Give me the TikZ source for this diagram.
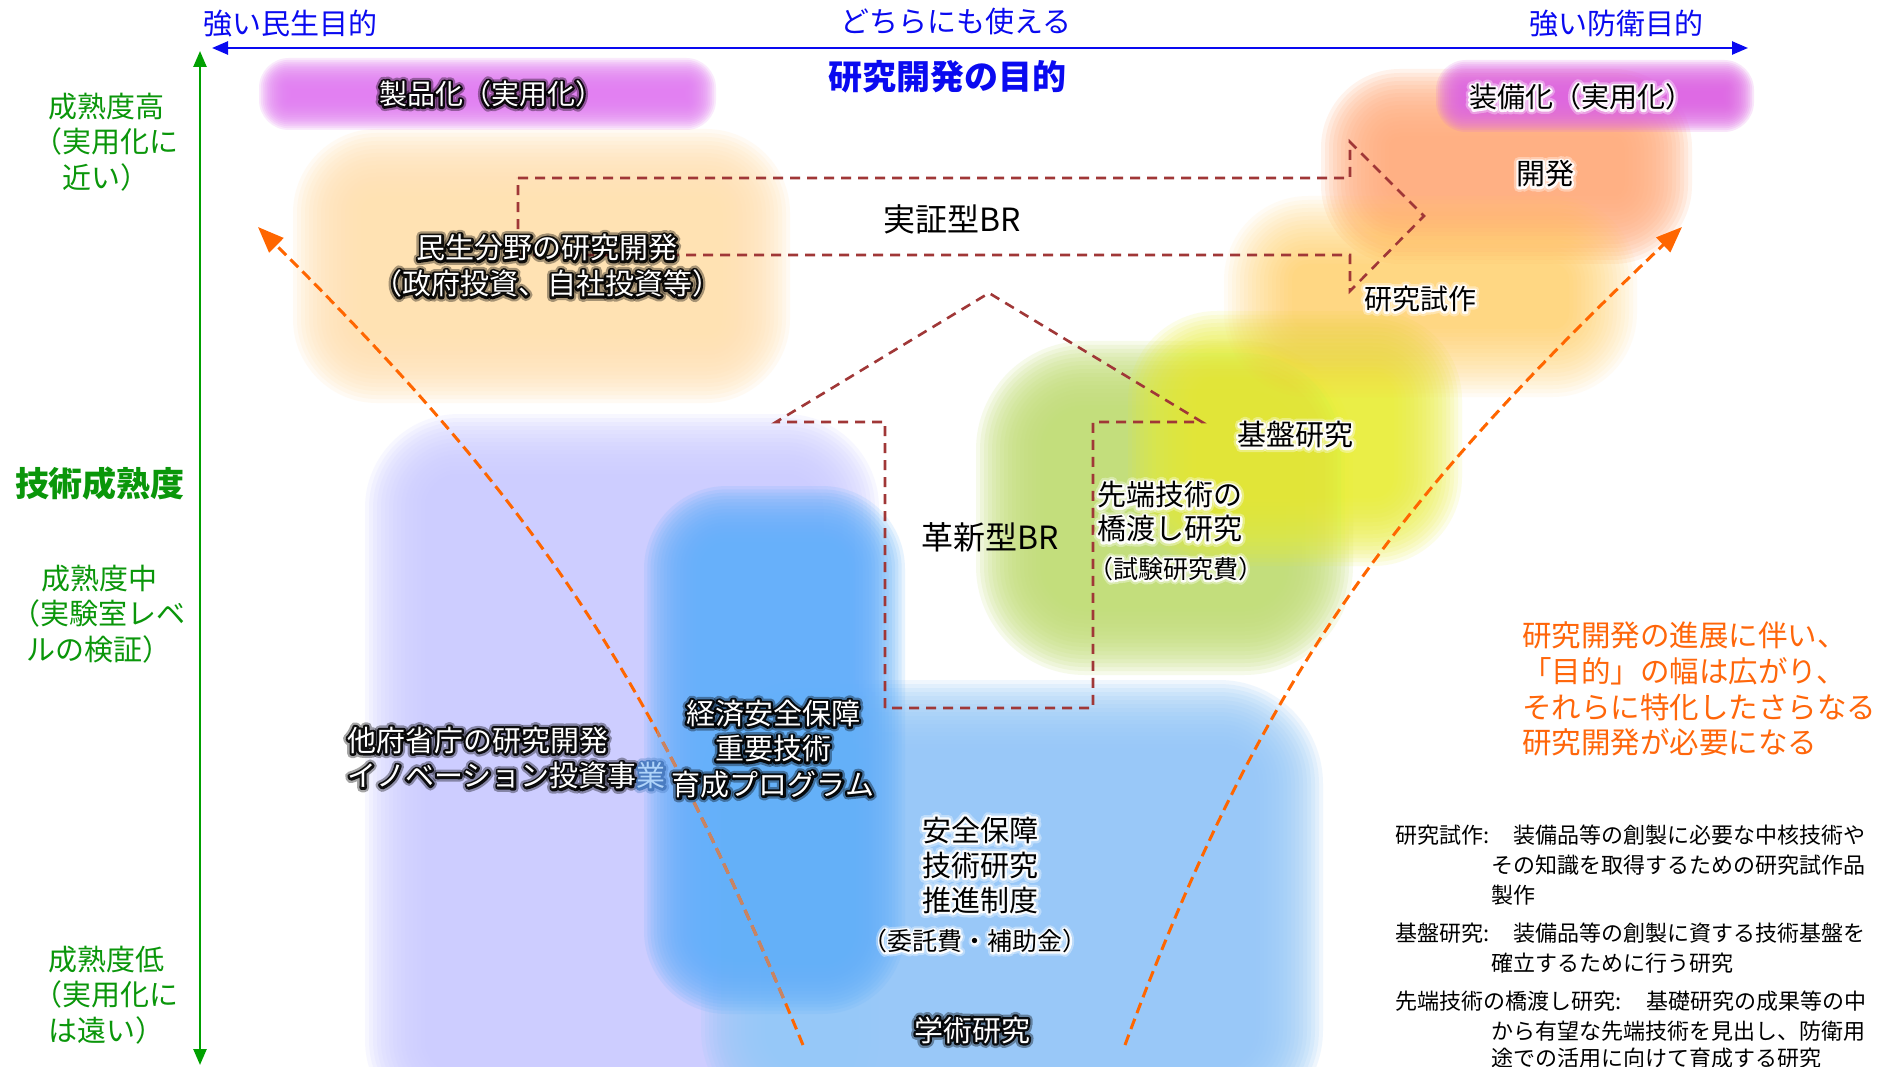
\documentclass[tikz,border=0pt]{standalone}
\usepackage{fontspec}
\setmainfont{Noto Sans CJK JP}
\newfontfamily\halofont[FakeBold=16]{Noto Sans CJK JP}
\newfontfamily\halofontb[FakeBold=32]{Noto Sans CJK JP}
\usetikzlibrary{arrows.meta,calc}
\definecolor{axblue}{RGB}{10,10,240}
\definecolor{axgreen}{RGB}{0,160,0}
\definecolor{lblgreen}{RGB}{10,150,10}
\definecolor{dbrown}{RGB}{160,55,55}
\definecolor{curveor}{RGB}{255,102,0}
\definecolor{curvebr}{RGB}{200,132,100}
\definecolor{txtor}{RGB}{255,102,10}
\definecolor{cpeach}{RGB}{255,226,178}
\definecolor{clav}{RGB}{205,205,255}
\definecolor{cltblue}{RGB}{150,200,248}
\definecolor{cblue}{RGB}{100,176,250}
\definecolor{cgreen}{RGB}{195,222,120}
\definecolor{cyellow}{RGB}{234,238,50}
\definecolor{cyor}{RGB}{255,200,70}
\definecolor{csalmon}{RGB}{255,175,128}
\definecolor{cpurL}{RGB}{226,125,242}
\definecolor{cpurR}{RGB}{222,102,228}
\definecolor{gyofill}{RGB}{175,212,250}
\definecolor{gyohalo}{RGB}{70,120,190}
% blurred rounded rectangle: x1 y1 x2 y2 colour layer-opacity radius blur
\newcommand\blobfill[8]{%
  \foreach \bi in {0,...,17}{%
    \pgfmathsetmacro\blobd{#8-\bi*2*#8/17}%
    \pgfmathsetmacro\blobr{max(#7+\blobd,2)}%
    \fill[#5,fill opacity=#6,rounded corners=\blobr pt] ({#1-(\blobd)},{#2-(\blobd)}) rectangle ({#3+(\blobd)},{#4+(\blobd)});
  }}
% text with a glow: name, position, options, glow colour, text
\newcommand\halonode[5]{%
  \node[#3,text=#4,opacity=0.35,line join=round,execute at begin node=\halofontb] at (#2) {#5};
  \node[#3,text=#4,opacity=0.9,line join=round,execute at begin node=\halofont] at (#2) {#5};
  \node[#3] (#1) at (#2) {#5};}
\tikzset{
  lab/.style={inner sep=0pt, align=center, font=\fontsize{29}{35.5}\selectfont},
  labs/.style={inner sep=0pt, align=center, font=\fontsize{25}{30}\selectfont},
  labbr/.style={inner sep=0pt, font=\fontsize{32}{36}\selectfont},
  glab/.style={inner sep=0pt, align=center, text=lblgreen, font=\fontsize{29}{35.5}\selectfont},
  toplab/.style={inner sep=0pt, text=axblue, font=\fontsize{29}{34}\selectfont},
  deflab/.style={inner sep=0pt, anchor=west, font=\fontsize{22}{26}\selectfont},
  brdash/.style={draw=dbrown, line width=2.6pt, dash pattern=on 10pt off 7pt},
  ordash/.style={line width=3pt, dash pattern=on 11pt off 6pt},
  orarrow/.style={-{Triangle[length=26pt,width=20pt]}},
  axisline/.style={line width=2.5pt, {Triangle[length=16pt,width=13pt]}-{Triangle[length=16pt,width=13pt]}},
}
\begin{document}
\begin{tikzpicture}[x=1pt,y=-1pt]
\useasboundingbox (0,0) rectangle (1888,1067);
\fill[white] (0,0) rectangle (1888,1067);
\begin{scope}
\clip (0,0) rectangle (1888,1067);
% background blobs
\blobfill{327}{163}{756}{369}{cpeach}{0.15}{50}{34}
\blobfill{399}{448}{845}{1100}{clav}{0.15}{60}{34}
\blobfill{735}{714}{1289}{1100}{cltblue}{0.15}{70}{34}
\blobfill{672}{514}{877}{986}{cblue}{0.15}{55}{28}
\blobfill{1010}{375}{1319}{641}{cgreen}{0.15}{75}{34}
\blobfill{1162}{345}{1428}{532}{cyellow}{0.11}{55}{34}
\blobfill{1355}{103}{1658}{230}{csalmon}{0.15}{45}{34}
\blobfill{1258}{230}{1603}{363}{cyor}{0.055}{50}{34}
\blobfill{275}{74}{700}{114}{cpurL}{0.16}{14}{16}
\blobfill{1452}{76}{1738}{116}{cpurR}{0.16}{14}{16}
\end{scope}
% axes
\coordinate (hxl) at (212,48);
\coordinate (hxr) at (1748,48);
\coordinate (vyt) at (200,51);
\coordinate (vyb) at (200,1065);
\draw[axisline, draw=axblue] (hxl) -- (hxr);
\draw[axisline, draw=axgreen] (vyt) -- (vyb);
\node[toplab] (t1) at (290,24) {強い民生目的};
\node[toplab] (t2) at (956,22) {どちらにも使える};
\node[toplab] (t3) at (1616,24) {強い防衛目的};
\node[inner sep=0pt, text=axblue, font=\fontsize{34}{40}\selectfont\bfseries] (title) at (947,77) {研究開発の目的};
\node[glab] (g1) at (106,142) {成熟度高\\（実用化に\\近い）};
\node[inner sep=0pt, text=lblgreen, font=\fontsize{34}{40}\selectfont\bfseries] (g2) at (100,484) {技術成熟度};
\node[glab] (g3) at (99,614) {成熟度中\\（実験室レベ\\ルの検証）};
\node[glab] (g4) at (106,995) {成熟度低\\（実用化に\\は遠い）};
% dashed block arrows
\draw[brdash] (518,178) -- (1350,178) -- (1350,142) -- (1424,216) -- (1350,291) -- (1350,255) -- (518,255) -- cycle;
\draw[brdash] (885,708) -- (885,422) -- (776,422) -- (989,293) -- (1202,422) -- (1093,422) -- (1093,708) -- cycle;
% orange curves
\coordinate (lc0) at (803,1045);
\coordinate (lc1) at (258,227);
\coordinate (rc0) at (1125,1045);
\coordinate (rc1) at (1682,227);
\draw[ordash, orarrow, draw=curveor] (lc0) .. controls (648,670) and (538,506) .. (lc1);
\begin{scope}
\clip[rounded corners=50pt] (657,499) rectangle (892,1001);
\draw[ordash, draw=curvebr] (lc0) .. controls (648,670) and (538,506) .. (lc1);
\end{scope}
\draw[ordash, orarrow, draw=curveor] (rc0) .. controls (1261,676) and (1395,500) .. (rc1);
% labels
\node[lab,anchor=west,align=left,text=black,opacity=0.35,line join=round,execute at begin node=\halofontb] at (347,758) {他府省庁の研究開発\\イノベーション投資事\textcolor{gyohalo}{業}};
\node[lab,anchor=west,align=left,text=black,opacity=0.9,line join=round,execute at begin node=\halofont] at (347,758) {他府省庁の研究開発\\イノベーション投資事\textcolor{gyohalo}{業}};
\node[lab,anchor=west,align=left,text=white] (other) at (347,758) {他府省庁の研究開発\\イノベーション投資事\textcolor{gyofill}{業}};
\halonode{seihin}{491,94}{lab,font=\fontsize{28}{34}\selectfont,text=white}{black}{製品化（実用化）}
\halonode{soubi}{1581,97}{lab,font=\fontsize{28}{34}\selectfont,text=black}{white}{装備化（実用化）}
\halonode{kaihatsu}{1545,174}{lab,text=black}{white}{開発}
\halonode{minsei}{547,266}{lab,font=\fontsize{29}{36}\selectfont,text=white}{black}{民生分野の研究開発\\（政府投資、自社投資等）}
\halonode{shisaku}{1420,299}{lab,font=\fontsize{28}{34}\selectfont,text=black}{white}{研究試作}
\halonode{kiban}{1295,435}{lab,text=black}{white}{基盤研究}
\halonode{sentan}{1097,512}{lab,anchor=west,align=left,font=\fontsize{29}{34}\selectfont,text=black}{white}{先端技術の\\橋渡し研究}
\halonode{shiken}{1088,569}{labs,anchor=west,text=black}{white}{（試験研究費）}
\halonode{keizai}{773,749}{lab,text=white}{black}{経済安全保障\\重要技術\\育成プログラム}
\halonode{anzen}{980,865}{lab,font=\fontsize{29}{35}\selectfont,text=black}{white}{安全保障\\技術研究\\推進制度}
\halonode{itaku}{975,941}{labs,text=black}{white}{（委託費・補助金）}
\halonode{gakujutsu}{972,1030}{lab,text=white}{black}{学術研究}
\node[labbr] (jissho) at (952,219) {実証型BR};
\node[labbr] (kakushin) at (990,537) {革新型BR};
% right-hand texts
\node[inner sep=0pt, anchor=west, align=left, text=txtor, font=\fontsize{29.5}{35.7}\selectfont] (note) at (1522,689) {研究開発の進展に伴い、\\「目的」の幅は広がり、\\それらに特化したさらなる\\研究開発が必要になる};
\node[deflab] (d1) at (1395,835) {研究試作:};
\node[deflab] (d1a) at (1513,835) {装備品等の創製に必要な中核技術や};
\node[deflab] (d1b) at (1491,865) {その知識を取得するための研究試作品};
\node[deflab] (d1c) at (1491,895) {製作};
\node[deflab] (d2) at (1395,933) {基盤研究:};
\node[deflab] (d2a) at (1513,933) {装備品等の創製に資する技術基盤を};
\node[deflab] (d2b) at (1491,963) {確立するために行う研究};
\node[deflab] (d3) at (1395,1001) {先端技術の橋渡し研究:};
\node[deflab] (d3a) at (1646,1001) {基礎研究の成果等の中};
\node[deflab] (d3b) at (1491,1031) {から有望な先端技術を見出し、防衛用};
\node[deflab] (d3c) at (1491,1058) {途での活用に向けて育成する研究};
\end{tikzpicture}
\end{document}
